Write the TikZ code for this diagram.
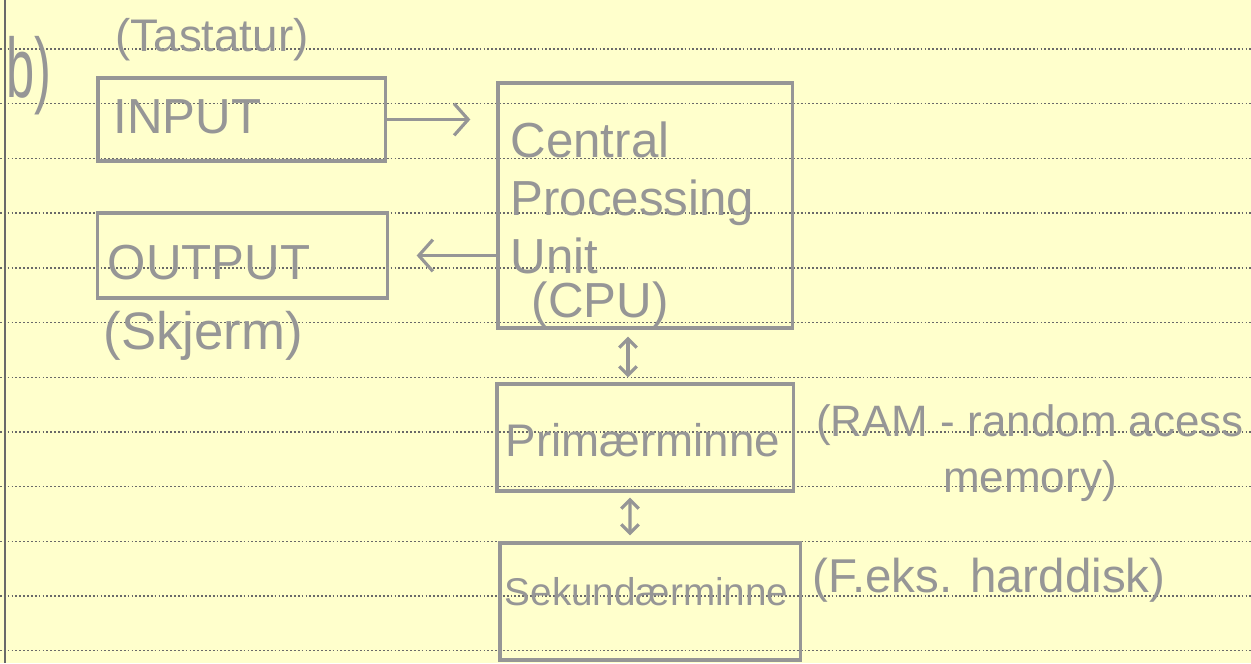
\documentclass[tikz,border=0pt]{standalone}
\usepackage{fontspec}
\setmainfont{Liberation Sans}
\usepackage{tikz}
\usetikzlibrary{positioning,arrows,arrows.meta}
\definecolor{paper}{RGB}{255,255,204}
\definecolor{pencil}{RGB}{150,150,150}
\definecolor{ruling}{RGB}{105,105,105}

\begin{document}
\begin{tikzpicture}[x=0.01cm,y=-0.01cm]
	\tikzset{box/.style={rectangle,draw=pencil,line width=0.9pt,inner sep=0pt},
		hand/.style={text=pencil,inner sep=0pt},
		rule/.style={draw=ruling,line width=0.4pt,dash pattern=on 0.5pt off 0.6pt},
		>={Straight Barb[length=4pt,width=9pt]}}
	% paper
	\fill[paper] (0,0) rectangle (1251,663);
	\useasboundingbox (0,0) rectangle (1251,663);
	\foreach \k in {0,...,11}
		\draw[rule] (0,49+54.7*\k) -- (1251,49+54.7*\k);
	\draw[ruling,line width=0.8pt] (5,0) -- (5,663);
	% boxes
	\node[box,minimum width=2.87cm,minimum height=0.83cm] (input) at (241.5,119.5) {};
	\node[box,minimum width=2.89cm,minimum height=0.85cm] (output) at (242.5,255.5) {};
	\node[box,minimum width=2.94cm,minimum height=2.45cm] (cpu) at (645,205.5) {};
	\node[box,minimum width=2.96cm,minimum height=1.07cm] (prim) at (645,437.5) {};
	\node[box,minimum width=3.00cm,minimum height=1.17cm] (sek) at (650,601.5) {};
	% texts
	\node[hand,font=\fontsize{24}{28}\selectfont] (b) at (29,76) {\scalebox{0.6}[1]{b)}};
	\node[hand,font=\fontsize{13}{16}\selectfont] (tastatur) at (212,40) {(Tastatur)};
	\node[hand,anchor=west,font=\fontsize{14}{17}\selectfont] (inputtxt) at (113,117) {INPUT};
	\node[hand,anchor=west,font=\fontsize{14}{17}\selectfont] (outputtxt) at (107,263) {OUTPUT};
	\node[hand,anchor=west,font=\fontsize{15}{18}\selectfont] (skjerm) at (103,336) {(Skjerm)};
	\node[hand,anchor=north west,align=left,font=\fontsize{14}{16.5}\selectfont] (cputxt) at (510,121)
		{Central\\Processing\\Unit\\[-4pt]\hspace*{6pt}(CPU)};
	\node[hand,anchor=west,font=\fontsize{13}{16}\selectfont] (primtxt) at (505,440) {Primærminne};
	\node[hand,anchor=west,font=\fontsize{11}{14}\selectfont] (sektxt) at (504,592) {Sekundærminne};
	\node[hand,align=center,font=\fontsize{12.5}{16}\selectfont] (ram) at (1030,453)
		{(RAM - random acess\\memory)};
	\node[hand,anchor=west,font=\fontsize{13.5}{16}\selectfont] (feks) at (812,580) {(F.eks. harddisk)};
	% arrows
	\path[draw=pencil,line width=0.9pt]
		(input.east) edge[->,shorten >=0.26cm] (input.east -| cpu.west)
		(output.east -| cpu.west) edge[->,shorten >=0.28cm] (output.east)
		([xshift=-0.17cm]cpu.south) edge[<->,>={Straight Barb[length=2.5pt,width=5pt]},shorten <=0.07cm,shorten >=0.05cm] ([xshift=-0.17cm]prim.north)
		([xshift=-0.15cm]prim.south) edge[<->,>={Straight Barb[length=2.5pt,width=5pt]},shorten <=0.05cm,shorten >=0.06cm] ([xshift=-0.20cm]sek.north);
\end{tikzpicture}
\end{document}
